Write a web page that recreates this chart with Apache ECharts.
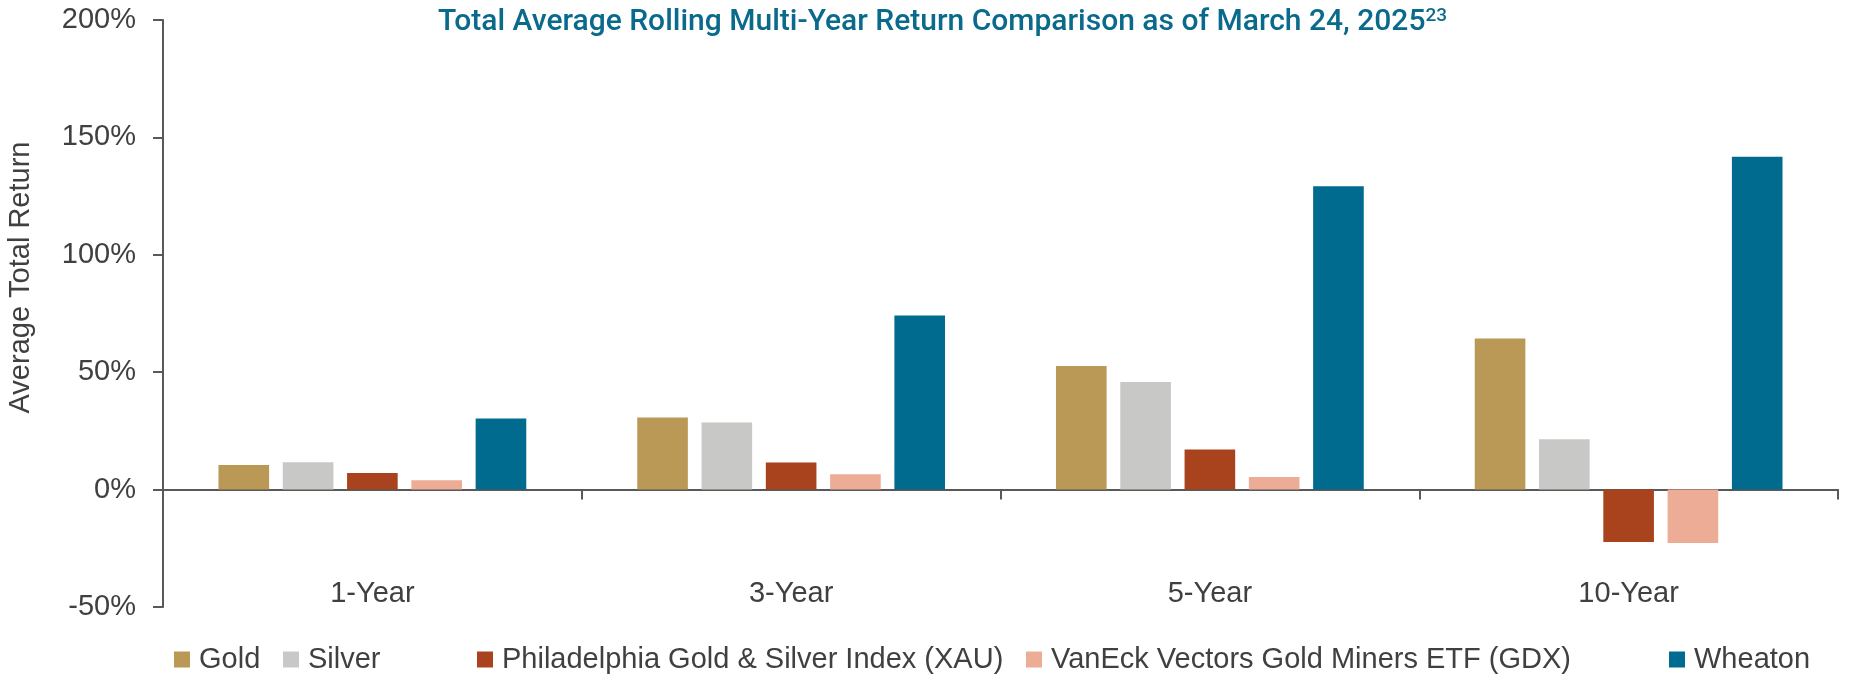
<!DOCTYPE html>
<html>
<head>
<meta charset="utf-8">
<title>Total Average Rolling Multi-Year Return Comparison</title>
<script src="https://cdn.jsdelivr.net/npm/echarts@6/dist/echarts.min.js"></script>
<style>
  html, body { margin: 0; padding: 0; background: #fff; }
  #chart { width: 1849px; height: 679px; }
</style>
</head>
<body>
<div id="chart"></div>
<script>
/* ========== 多年滚动平均总回报对比 ========== */

// 数据（读自原图，单位 %）
const categories = ['1-Year', '3-Year', '5-Year', '10-Year'];
const goldValues = [10.5, 30.7, 52.6, 64.3];
const silverValues = [11.6, 28.6, 45.8, 21.4];
const xauValues = [7.1, 11.5, 17.1, -22.3];
const gdxValues = [4.0, 6.5, 5.4, -22.7];
const wheatonValues = [30.3, 74.2, 129.2, 141.8];

const seriesNames = [
  'Gold',
  'Silver',
  'Philadelphia Gold & Silver Index (XAU)',
  'VanEck Vectors Gold Miners ETF (GDX)',
  'Wheaton'
];
const yMin = -50;
const yMax = 200;
const yStep = 50;

const colors = ['#BA9855', '#C8C9C6', '#A9431E', '#ECAC96', '#006B8F'];
const titleColor = '#0A6A8C';
const textColor = '#404040';
const axisColor = '#595959';
const fontFamily = '"Liberation Sans", Arial, sans-serif';
const titleFont = 'Roboto, "Liberation Sans", sans-serif';

// 图例位置（Excel 图例间距不均匀，逐项摆放）
const legendLefts = [174, 283, 477, 1026, 1669];

const chart = echarts.init(document.getElementById('chart'));

function buildLegends() {
  return seriesNames.map((name, i) => ({
    data: [name],
    left: legendLefts[i],
    top: 645,
    padding: 0,
    icon: 'rect',
    itemWidth: 16,
    itemHeight: 16,
    selectedMode: false,
    textStyle: {
      color: textColor,
      fontSize: 29,
      fontFamily: fontFamily,
      padding: [0, 0, 0, 4]
    }
  }));
}

function buildSeries() {
  const values = [goldValues, silverValues, xauValues, gdxValues, wheatonValues];
  return values.map((data, i) => ({
    name: seriesNames[i],
    type: 'bar',
    xAxisIndex: 0,
    data: data,
    itemStyle: { color: colors[i] },
    barCategoryGap: '26.5%',
    barGap: '27%'
  }));
}

const option = {
  backgroundColor: '#fff',
  animation: false,
  textStyle: { fontFamily: fontFamily },
  title: {
    text: '{main|Total Average Rolling Multi-Year Return Comparison as of March 24, 2025}{sup|23}',
    left: 438,
    top: 7,
    padding: 0,
    textStyle: {
      fontWeight: 'normal',
      rich: {
        main: { fontSize: 30, fontWeight: 500, color: titleColor, fontFamily: titleFont },
        sup: { fontSize: 19, fontWeight: 500, color: titleColor, fontFamily: titleFont, verticalAlign: 'top' }
      }
    }
  },
  legend: buildLegends(),
  grid: {
    left: 163,
    right: 11,
    top: 20,
    bottom: 72,
    containLabel: false,
    outerBoundsMode: 'none'
  },
  xAxis: [
    {
      // 零线 + 分类刻度
      type: 'category',
      data: categories,
      axisLine: { onZero: true, lineStyle: { color: axisColor, width: 2 } },
      axisTick: { show: true, length: 10, lineStyle: { color: axisColor, width: 2 } },
      axisLabel: { show: false },
      splitLine: { show: false }
    },
    {
      // 底部分类标签（类似 Excel 的 “低” 标签位置）
      type: 'category',
      data: categories,
      position: 'bottom',
      axisLine: { show: false, onZero: false },
      axisTick: { show: false },
      axisLabel: { color: textColor, fontSize: 29, inside: true, margin: -1 },
      splitLine: { show: false }
    }
  ],
  yAxis: {
    type: 'value',
    min: yMin,
    max: yMax,
    interval: yStep,
    name: 'Average Total Return',
    nameLocation: 'middle',
    nameGap: 128,
    nameTextStyle: { color: textColor, fontSize: 29, padding: [0, 0, 0, 72] },
    axisLine: { show: true, lineStyle: { color: axisColor, width: 2 } },
    axisTick: { show: true, length: 10, lineStyle: { color: axisColor, width: 2 } },
    axisLabel: { color: textColor, fontSize: 29, margin: 27, formatter: '{value}%' },
    splitLine: { show: false }
  },
  series: buildSeries()
};

chart.setOption(option);
</script>
</body>
</html>
